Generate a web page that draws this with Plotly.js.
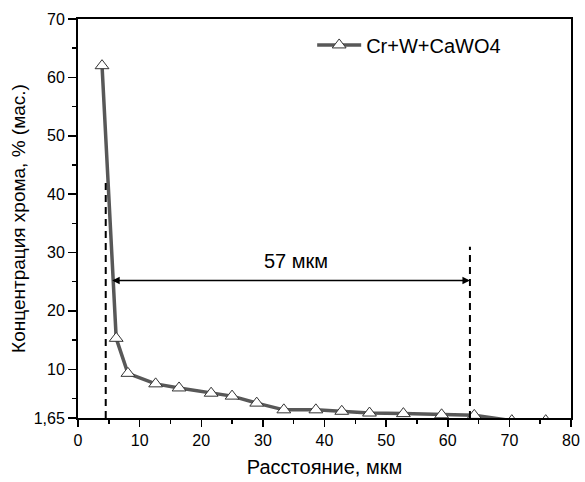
<!DOCTYPE html>
<html>
<head>
<meta charset="utf-8">
<script src="https://cdn.plot.ly/plotly-3.0.1.min.js"></script>
<style>html,body{margin:0;padding:0;background:#fff;}#chart{width:585px;height:482px;}</style>
</head>
<body>
<div id="chart"></div>
<script>
const seriesName = "Cr+W+CaWO4";
const distance = [3.9, 6.2, 8.1, 12.6, 16.4, 21.6, 25.0, 29.0, 33.4, 38.6, 42.8, 47.3, 52.8, 59.0, 64.3, 70.4, 75.9];
const chromium = [62.0, 15.3, 9.3, 7.5, 6.8, 5.9, 5.4, 4.2, 3.05, 3.05, 2.8, 2.5, 2.4, 2.2, 2.1, 1.2, 1.2];
const yTickVals = [1.65, 10, 20, 30, 40, 50, 60, 70];
const yTickText = ["1,65", "10", "20", "30", "40", "50", "60", "70"];
const yMinorVals = [5, 15, 25, 35, 45, 55, 65];
const xTickVals = [0, 10, 20, 30, 40, 50, 60, 70, 80];
const xMinorVals = [5, 15, 25, 35, 45, 55, 65, 75];
const dashLeft = {x: 4.5, yTop: 42};
const dashRight = {x: 63.6, yTop: 31};
const span = {x0: 5.3, x1: 63.6, y: 25.2, label: "57 мкм", labelX: 35.3, labelY: 26.3};

const font = "Liberation Sans, Arial, sans-serif";

const trace = {
  x: distance, y: chromium, name: seriesName,
  mode: "lines+markers", type: "scatter",
  line: {color: "#585858", width: 3.5},
  marker: {symbol: "triangle-up", size: 12, color: "#ffffff", line: {color: "#333333", width: 1}},
  cliponaxis: true
};

const layout = {
  width: 585, height: 482,
  margin: {l: 78, r: 14, t: 19, b: 64},
  paper_bgcolor: "#fff", plot_bgcolor: "#fff",
  font: {family: font, size: 16, color: "#000"},
  showlegend: true,
  legend: {x: 0.475, y: 0.935, xanchor: "left", yanchor: "middle", itemwidth: 44, bgcolor: "rgba(0,0,0,0)", font: {size: 20, family: font}},
  xaxis: {
    range: [0, 80], tickmode: "array", tickvals: xTickVals,
    ticks: "outside", ticklen: 7, tickwidth: 1.5, tickcolor: "#000",
    minor: {tickvals: xMinorVals, ticks: "outside", ticklen: 4, tickwidth: 1.5, tickcolor: "#000"},
    showline: true, linecolor: "#000", linewidth: 2, mirror: true,
    showgrid: false, zeroline: false,
    tickfont: {size: 16, family: font},
    title: {text: "Расстояние, мкм", font: {size: 20, family: font}, standoff: 12}
  },
  yaxis: {
    range: [1.65, 70], tickmode: "array", tickvals: yTickVals, ticktext: yTickText,
    ticks: "outside", ticklen: 8, tickwidth: 1.5, tickcolor: "#000",
    minor: {tickvals: yMinorVals, ticks: "outside", ticklen: 4, tickwidth: 1.5, tickcolor: "#000"},
    showline: true, linecolor: "#000", linewidth: 2, mirror: true,
    showgrid: false, zeroline: false,
    tickfont: {size: 16, family: font},
    title: {text: "Концентрация хрома, % (мас.)", font: {size: 19, family: font}, standoff: 3}
  },
  shapes: [
    {type: "line", xref: "x", yref: "y", x0: dashLeft.x, x1: dashLeft.x, y0: 1.65, y1: dashLeft.yTop, line: {color: "#000", width: 2, dash: "7px,5px"}},
    {type: "line", xref: "x", yref: "y", x0: dashRight.x, x1: dashRight.x, y0: 1.65, y1: dashRight.yTop, line: {color: "#000", width: 2, dash: "7px,5px"}}
  ],
  annotations: [
    {x: span.x1, y: span.y, ax: span.x0, ay: span.y, xref: "x", yref: "y", axref: "x", ayref: "y", text: "", showarrow: true, arrowhead: 2, arrowside: "end+start", arrowsize: 1, arrowwidth: 1.5, arrowcolor: "#000"},
    {x: span.labelX, y: span.labelY, xref: "x", yref: "y", text: span.label, showarrow: false, yanchor: "bottom", font: {size: 20, family: font}}
  ]
};

Plotly.newPlot("chart", [trace], layout, {displayModeBar: false, staticPlot: true});
</script>
</body>
</html>
